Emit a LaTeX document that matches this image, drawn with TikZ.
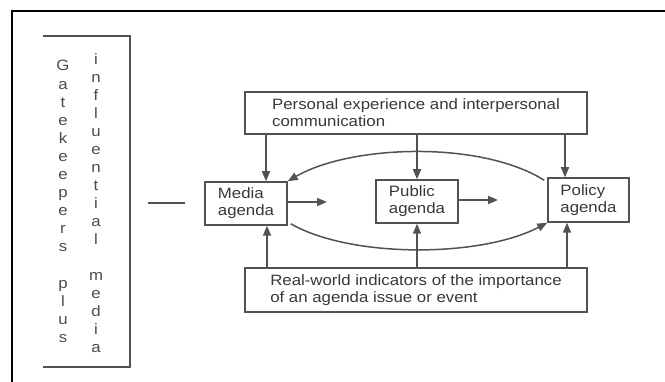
\documentclass[tikz,border=0pt]{standalone}
\usepackage{fontspec}
\setmainfont{Liberation Sans}[FakeStretch=1.12]
\usetikzlibrary{arrows.meta}
\begin{document}
\begin{tikzpicture}[x=1pt,y=-1pt,
  linec/.style={draw=black!68, line width=1.5pt},
  agbox/.style={linec, fill=white, minimum width=82pt, minimum height=43pt, inner sep=0pt,
     align=left, text=black!78, font=\fontsize{15}{17}\selectfont},
  widebox/.style={agbox, minimum width=342pt},
  arr/.style={linec, -{Triangle[length=10pt,width=8pt]}},
  letter/.style={anchor=base, inner sep=0pt, text=black!70, font=\fontsize{15}{17}\selectfont}]
\useasboundingbox (0,0) rectangle (665,382);
\fill[white] (0,0) rectangle (665,382);
% outer frame
\draw[black, line width=2pt] (12,382) -- (12,11) -- (665,11);
% bracket
\draw[linec] (43,36) -- (130,36) -- (130,367) -- (43,367);
% letter columns
\foreach \l [count=\i from 0] in {G,a,t,e,k,e,e,p,e,r,s,{},p,l,u,s}
  \node[letter] (c1-\i) at (63,71+18.1*\i) {\l};
\foreach \l [count=\i from 0] in {i,n,f,l,u,e,n,t,i,a,l,{},m,e,d,i,a}
  \node[letter] (c2-\i) at (96,65+18*\i) {\l};
% dash
\coordinate (dashA) at (148,203);
\coordinate (dashB) at (185,203);
\draw[linec] (dashA) -- (dashB);
% boxes
\node[widebox, minimum height=42pt] (top) at (416,113) {Personal experience and interpersonal\\communication};
\node[widebox, minimum height=44pt] (bot) at (416,290) {Real-world indicators of the importance\\of an agenda issue or event};
\node[agbox] (media) at (246,203.5) {Media\\agenda};
\node[agbox] (public) at (417,201.5) {Public\\agenda};
\node[agbox, minimum width=81pt, minimum height=44pt] (policy) at (588.5,200) {Policy\\agenda};
% vertical arrows
\draw[arr] ([xshift=20pt]media.north |- top.south) -- ([xshift=20pt]media.north);
\draw[arr] (public.north |- top.south) -- (public.north);
\draw[arr] ([xshift=-23.5pt]policy.north |- top.south) -- ([xshift=-23.5pt]policy.north);
\draw[arr] ([xshift=21pt]media.south |- bot.north) -- ([xshift=21pt]media.south);
\draw[arr] (public.south |- bot.north) -- (public.south);
\draw[arr] ([xshift=-21.5pt]policy.south |- bot.north) -- ([xshift=-21.5pt]policy.south);
% horizontal arrows
\coordinate (mtip) at (327,202);
\coordinate (ptip) at (498,200);
\draw[arr] (media.east |- mtip) -- (mtip);
\draw[arr] (public.east |- ptip) -- (ptip);
% curves
\draw[arr] ([shift={(-3pt,-3pt)}]policy.north west) .. controls (480,140) and (350,145) .. (media.north east);
\draw[arr] ([shift={(3pt,2pt)}]media.south east) .. controls (350,258) and (480,258) .. (policy.south west);
\end{tikzpicture}
\end{document}
